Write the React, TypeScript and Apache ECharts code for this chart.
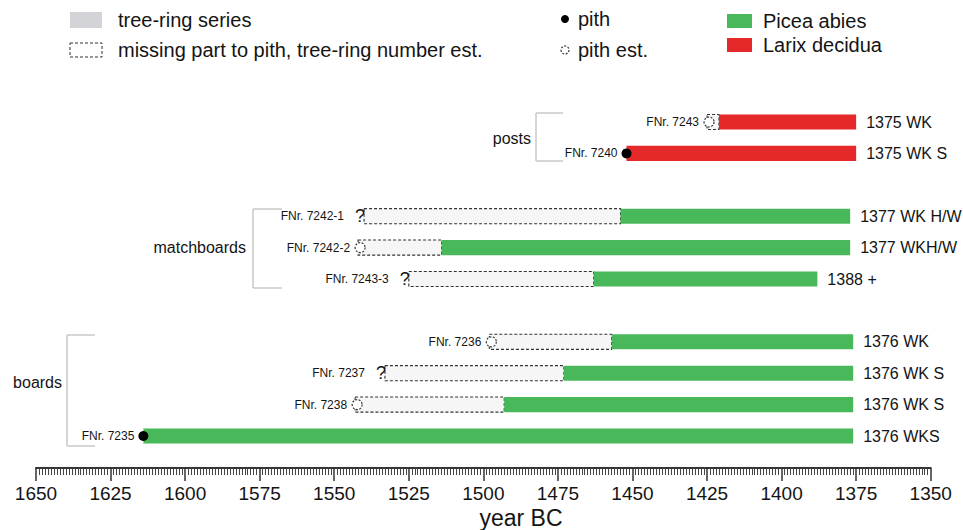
import React, { useEffect, useRef } from "react";
import * as echarts from "echarts";

// y rows (blank names separate the groups)
const rowNames = [
  "FNr. 7243", "FNr. 7240", " ",
  "FNr. 7242-1", "FNr. 7242-2", "FNr. 7243-3", "  ",
  "FNr. 7236", "FNr. 7237", "FNr. 7238", "FNr. 7235",
];
const samples = [
  "FNr. 7243", "FNr. 7240", "FNr. 7242-1", "FNr. 7242-2", "FNr. 7243-3",
  "FNr. 7236", "FNr. 7237", "FNr. 7238", "FNr. 7235",
];
const species = [
  "Larix decidua", "Larix decidua", "Picea abies", "Picea abies", "Picea abies",
  "Picea abies", "Picea abies", "Picea abies", "Picea abies",
];
// first measured ring (year BC)
const firstRing = [1421, 1452, 1454, 1514, 1463, 1457, 1473, 1493, 1614];
// estimated start of missing part to pith (year BC), null if none
const estStart = [1425, null, 1540, 1542, 1525, 1498, 1533, 1543, null];
// last ring (year BC)
const lastRing = [1375, 1375, 1377, 1377, 1388, 1376, 1376, 1376, 1376];
// pith: "pith" present, "est" estimated, "unknown"
const pithType = ["est", "pith", "unknown", "est", "unknown", "est", "unknown", "est", "pith"];
const endLabels = [
  "1375 WK", "1375 WK S", "1377 WK H/W", "1377 WKH/W", "1388 +",
  "1376 WK", "1376 WK S", "1376 WK S", "1376 WKS",
];
const groupNames = ["posts", "matchboards", "boards"];
const legendSeries = ["tree-ring series", "missing part to pith, tree-ring number est."];
const legendPith = ["pith", "pith est."];
const speciesNames = ["Picea abies", "Larix decidua"];
const xMin = 1350;
const xMax = 1650;
const xInterval = 25;
const xName = "year BC";

const FONT = "'Liberation Sans', Arial, Helvetica, sans-serif";
const speciesColor: Record<string, string> = {
  "Picea abies": "#48b85b",
  "Larix decidua": "#e5292a",
};
const TXT = "#141414";
const BRACKET = "#c8c8c8";

export default function App() {
  const ref = useRef<HTMLDivElement>(null);

  useEffect(() => {
    if (!ref.current) return;
    const chart = echarts.init(ref.current, undefined, { renderer: "svg" });

    const data = samples.map((s, i) => [firstRing[i], lastRing[i], rowNames.indexOf(s)]);

    const renderItem = (params: any, api: any) => {
      const i = params.dataIndex;
      const row = api.value(2);
      const pFirst = api.coord([api.value(0), row]);
      const pLast = api.coord([api.value(1), row]);
      const yc = pFirst[1];
      const band = api.size([0, 1])[1];
      const h = band * 0.48;
      const est = estStart[i];
      const xEst = est != null ? api.coord([est, row])[0] : null;
      const children: any[] = [];
      if (xEst != null) {
        children.push({
          type: "rect",
          shape: { x: xEst, y: yc - h / 2, width: pFirst[0] - xEst, height: h },
          style: { fill: "#f6f6f6", stroke: "#333", lineWidth: 1.1, lineDash: [3, 2] },
        });
      }
      children.push({
        type: "rect",
        shape: { x: pFirst[0], y: yc - h / 2, width: pLast[0] - pFirst[0], height: h },
        style: { fill: speciesColor[species[i]] },
      });
      let leftEdge = pFirst[0];
      const pt = pithType[i];
      if (pt === "pith") {
        children.push({
          type: "circle",
          shape: { cx: pFirst[0], cy: yc, r: 5 },
          style: { fill: "#000" },
        });
        leftEdge = pFirst[0] - 5 - 4;
      } else if (pt === "est" && xEst != null) {
        children.push({
          type: "circle",
          shape: { cx: xEst + 2, cy: yc, r: 5 },
          style: { fill: "#fff", stroke: "#333", lineWidth: 1.2, lineDash: [2, 1.5] },
        });
        leftEdge = xEst - 3 - 5;
      } else if (xEst != null) {
        children.push({
          type: "text",
          style: {
            text: "?", x: xEst + 1, y: yc, align: "right", verticalAlign: "middle",
            font: `18px ${FONT}`, fill: TXT,
          },
        });
        leftEdge = xEst - 10 - 10;
      }
      children.push({
        type: "text",
        style: {
          text: samples[i], x: leftEdge, y: yc, align: "right", verticalAlign: "middle",
          font: `12px ${FONT}`, fill: TXT,
        },
      });
      children.push({
        type: "text",
        style: {
          text: endLabels[i], x: pLast[0] + 10, y: yc, align: "left", verticalAlign: "middle",
          font: `16px ${FONT}`, fill: TXT,
        },
      });
      return { type: "group", children };
    };

    const bracket = (x: number, y1: number, y2: number, x2: number) => [
      { type: "line", shape: { x1: x, y1, x2: x, y2 }, style: { stroke: BRACKET, lineWidth: 1.5 } },
      { type: "line", shape: { x1: x, y1, x2, y2: y1 }, style: { stroke: BRACKET, lineWidth: 1.5 } },
      { type: "line", shape: { x1: x, y1: y2, x2, y2 }, style: { stroke: BRACKET, lineWidth: 1.5 } },
    ];
    const groupText = (t: string, x: number, y: number) => ({
      type: "text",
      style: { text: t, x, y, align: "right", verticalAlign: "middle", font: `16px ${FONT}`, fill: TXT },
    });
    const legendText = (t: string, x: number, y: number) => ({
      type: "text",
      style: { text: t, x, y, align: "left", verticalAlign: "middle", font: `20px ${FONT}`, fill: TXT },
    });

    const graphic: any[] = [
      // legend
      { type: "rect", shape: { x: 70, y: 12, width: 32, height: 16 }, style: { fill: "#d3d4d8" } },
      legendText(legendSeries[0], 118, 20),
      {
        type: "rect", shape: { x: 70, y: 43, width: 32, height: 14 },
        style: { fill: "#fff", stroke: "#333", lineWidth: 1, lineDash: [3, 2] },
      },
      legendText(legendSeries[1], 118, 50),
      { type: "circle", shape: { cx: 565, cy: 19, r: 4 }, style: { fill: "#000" } },
      legendText(legendPith[0], 578, 19),
      {
        type: "circle", shape: { cx: 565, cy: 50, r: 4 },
        style: { fill: "#fff", stroke: "#333", lineWidth: 1.2, lineDash: [2, 1.5] },
      },
      legendText(legendPith[1], 578, 50),
      { type: "rect", shape: { x: 727, y: 14, width: 25, height: 14 }, style: { fill: speciesColor[speciesNames[0]] } },
      legendText(speciesNames[0], 763, 21),
      { type: "rect", shape: { x: 727, y: 38, width: 25, height: 14 }, style: { fill: speciesColor[speciesNames[1]] } },
      legendText(speciesNames[1], 763, 45),
      // group brackets
      ...bracket(536, 113, 161, 563),
      groupText(groupNames[0], 531, 138),
      ...bracket(253, 209, 288, 282),
      groupText(groupNames[1], 246, 247),
      ...bracket(67, 335, 446, 95),
      groupText(groupNames[2], 62, 382),
      // axis name
      {
        type: "text",
        style: {
          text: xName, x: 521, y: 518, align: "center", verticalAlign: "middle",
          font: `23px ${FONT}`, fill: TXT,
        },
      },
    ];

    chart.setOption({
      animation: false,
      backgroundColor: "#ffffff",
      textStyle: { fontFamily: FONT },
      grid: { left: 36, right: 32.3, top: 106.3, bottom: 78.3 },
      xAxis: {
        type: "value",
        min: xMin,
        max: xMax,
        interval: xInterval,
        inverse: true,
        position: "bottom",
        offset: 16.3,
        axisLine: { show: true, lineStyle: { color: "#333", width: 2 } },
        axisTick: { show: true, length: 13, lineStyle: { color: "#333", width: 1.5 } },
        minorTick: { show: true, splitNumber: 25, length: 7, lineStyle: { color: "#444", width: 1 } },
        splitLine: { show: false },
        axisLabel: {
          fontSize: 19, color: TXT, margin: 16, fontFamily: FONT,
          formatter: (v: number) => String(v),
        },
      },
      yAxis: {
        type: "category",
        data: rowNames,
        inverse: true,
        show: false,
      },
      series: [
        {
          type: "custom",
          renderItem,
          encode: { x: [0, 1], y: 2 },
          data,
          clip: false,
        },
      ],
      graphic,
    });

    return () => chart.dispose();
  }, []);

  return (
    <div
      ref={ref}
      style={{ position: "fixed", left: 0, top: 0, width: 963, height: 530, background: "#fff" }}
    />
  );
}
